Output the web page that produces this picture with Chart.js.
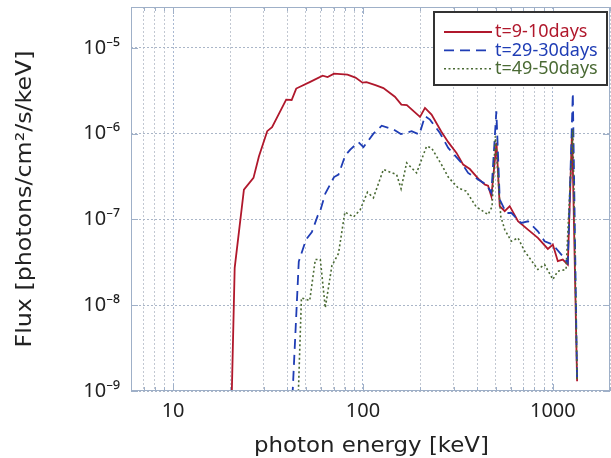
<!DOCTYPE html>
<html><head><meta charset="utf-8">
<script src="https://cdn.jsdelivr.net/npm/chart.js@4.4.1/dist/chart.umd.min.js"></script>
<style>html,body{margin:0;padding:0;background:#fff}#wrap{width:611px;height:458px;position:relative}</style>
</head><body><div id="wrap"><canvas id="c"></canvas></div>
<script>
const seriesLabels = ['t=9-10days', 't=29-30days', 't=49-50days'];
const xAxisTitle = 'photon energy [keV]';
const yAxisTitle = 'Flux [photons/cm\u00B2/s/keV]';

const redEnergy = [19.9, 21.1, 23.6, 26.5, 28.3, 31.3, 33.2, 39.4, 42.1, 44.5, 52.4, 61.3, 65.1, 70.4, 82.9, 91.3, 99.4, 104.3, 116.3, 128.1, 147.2, 159.3, 170.2, 199.7, 212.1, 229.7, 258.3, 281.2, 310.8, 337.0, 365.4, 408.8, 439.5, 455.8, 474.5, 505, 525.1, 557.9, 592.6, 655.2, 739.4, 834.2, 941.4, 1000, 1062, 1128, 1199, 1263, 1342];
const redFlux = [1e-10, 2.73e-8, 2.23e-7, 3.05e-7, 5.41e-7, 1.07e-6, 1.19e-6, 2.49e-6, 2.47e-6, 3.36e-6, 3.99e-6, 4.75e-6, 4.57e-6, 5.01e-6, 4.89e-6, 4.51e-6, 3.94e-6, 3.99e-6, 3.68e-6, 3.40e-6, 2.70e-6, 2.18e-6, 2.15e-6, 1.57e-6, 2.0e-6, 1.67e-6, 1.06e-6, 7.97e-7, 5.97e-7, 4.36e-7, 3.87e-7, 2.92e-7, 2.55e-7, 2.48e-7, 1.86e-7, 7.82e-7, 1.43e-7, 1.25e-7, 1.43e-7, 9.53e-8, 7.62e-8, 6.10e-8, 4.54e-8, 5.1e-8, 3.26e-8, 3.41e-8, 2.98e-8, 1.12e-6, 1.3e-9];

const blueEnergy = [40.6, 45.9, 50.1, 53.8, 57.7, 59.8, 63.3, 70.4, 74.3, 80.6, 85.7, 94.7, 100.6, 113.5, 125.5, 144.6, 158.3, 180.4, 198, 212.1, 225.3, 254.2, 281.2, 330, 357.9, 404, 446.6, 474.5, 504.1, 525.1, 568.9, 604.1, 681.6, 739.4, 834.2, 904.4, 1000, 1128, 1199, 1274, 1342];
const blueFlux = [1e-10, 3.23e-8, 5.83e-8, 7.13e-8, 1.10e-7, 1.30e-7, 2.0e-7, 3.12e-7, 3.34e-7, 5.55e-7, 6.53e-7, 7.97e-7, 6.98e-7, 1.0e-6, 1.24e-6, 1.12e-6, 9.9e-7, 1.07e-6, 9.77e-7, 1.60e-6, 1.46e-6, 1.02e-6, 6.82e-7, 4.57e-7, 3.49e-7, 2.92e-7, 2.55e-7, 2.04e-7, 1.82e-6, 1.71e-7, 1.19e-7, 1.19e-7, 9.12e-8, 9.53e-8, 7.28e-8, 5.57e-8, 5.1e-8, 3.72e-8, 3.12e-8, 2.99e-6, 1.3e-9];

const greenEnergy = [44.2, 47.4, 52.4, 56.1, 59.6, 63.3, 68.6, 74.3, 80.3, 89.2, 96.7, 105.6, 113.5, 128.1, 150.4, 158.7, 169.8, 191.6, 216.2, 229.7, 259.2, 281.2, 317.2, 349.4, 394.3, 455.8, 478.5, 497.9, 531.5, 557.9, 604.1, 655.2, 710.2, 834.2, 904.4, 1000, 1062, 1174, 1274, 1342];
const greenFlux = [1e-10, 1.22e-8, 1.13e-8, 3.41e-8, 3.41e-8, 9.33e-9, 2.9e-8, 4.01e-8, 1.22e-7, 1.07e-7, 1.30e-7, 2.08e-7, 1.79e-7, 3.82e-7, 3.34e-7, 2.28e-7, 4.57e-7, 3.49e-7, 7.13e-7, 6.82e-7, 4.36e-7, 3.12e-7, 2.33e-7, 2.14e-7, 1.41e-7, 1.14e-7, 1.41e-7, 9.33e-7, 1.09e-7, 7.62e-8, 5.57e-8, 6.1e-8, 4.26e-8, 2.61e-8, 2.98e-8, 2.0e-8, 2.49e-8, 2.61e-8, 1.12e-6, 1.3e-9];

const xTickValues = [6, 7, 8, 9, 10, 20, 30, 40, 50, 60, 70, 80, 90, 100, 200, 300, 400, 500, 600, 700, 800, 900, 1000, 2000];
const xTickLabels = {10: '10', 100: '100', 1000: '1000'};
const yTickValues = [1e-9, 1e-8, 1e-7, 1e-6, 1e-5];
const yTickLabels = ['10\u207B\u2079', '10\u207B\u2078', '10\u207B\u2077', '10\u207B\u2076', '10\u207B\u2075'];

const seriesColors = ['#b0182c', '#1f3db5', '#4a6a34'];
const seriesDash = [[], [10, 6], [2, 2.5]];
const seriesWidth = [1.8, 1.8, 1.6];

function pairs(xs, ys) { return xs.map((x, i) => ({x: x, y: ys[i]})); }
function isDecade(v) { const l = Math.log10(v); return Math.abs(l - Math.round(l)) < 1e-6; }
function zeroPad(s) { s.paddingTop = 0; s.paddingBottom = 0; s.paddingLeft = 0; s.paddingRight = 0; }

const FONT = "'Noto Sans', 'DejaVu Sans', sans-serif";
const TITLE_FONT = "'DejaVu Sans', 'Noto Sans', sans-serif";

const decor = {
  id: 'decor',
  afterDraw(chart) {
    const ctx = chart.ctx, a = chart.chartArea;
    const xs = chart.scales.x, ys = chart.scales.y;
    ctx.save();
    ctx.strokeStyle = '#9fb0c8';
    ctx.lineWidth = 1;
    ctx.setLineDash([]);
    ctx.strokeRect(a.left + 0.5, a.top + 0.5, a.right - a.left - 1, a.bottom - a.top - 1);
    ctx.beginPath();
    xTickValues.forEach(v => {
      const px = Math.round(xs.getPixelForValue(v)) + 0.5;
      const len = isDecade(v) ? 7 : 4;
      ctx.moveTo(px, a.bottom); ctx.lineTo(px, a.bottom - len);
      ctx.moveTo(px, a.top); ctx.lineTo(px, a.top + len);
    });
    yTickValues.forEach(v => {
      const py = Math.round(ys.getPixelForValue(v)) + 0.5;
      ctx.moveTo(a.left, py); ctx.lineTo(a.left + 7, py);
      ctx.moveTo(a.right, py); ctx.lineTo(a.right - 7, py);
    });
    ctx.stroke();

    // axis titles (slightly widened glyphs, like the original's wide face)
    ctx.fillStyle = '#222';
    ctx.textAlign = 'center';
    ctx.textBaseline = 'alphabetic';
    ctx.font = "21px " + TITLE_FONT;
    ctx.save();
    ctx.translate((a.left + a.right) / 2 + 1, 452);
    ctx.scale(1.09, 1);
    ctx.fillText(xAxisTitle, 0, 0);
    ctx.restore();
    ctx.save();
    ctx.translate(31, (a.top + a.bottom) / 2);
    ctx.rotate(-Math.PI / 2);
    ctx.scale(1.13, 1);
    ctx.fillText(yAxisTitle, 0, 0);
    ctx.restore();

    // legend box
    const bw = 173, bh = 73;
    const bx = a.right - bw - 3, by = a.top + 5;
    ctx.fillStyle = '#fff';
    ctx.fillRect(bx, by, bw, bh);
    ctx.strokeStyle = '#333';
    ctx.lineWidth = 2;
    ctx.strokeRect(bx, by, bw, bh);
    ctx.font = "18px " + FONT;
    ctx.textBaseline = 'middle';
    ctx.textAlign = 'left';
    chart.data.datasets.forEach((ds, i) => {
      const yy = by + 20 + i * 18.4;
      ctx.strokeStyle = ds.borderColor;
      ctx.lineWidth = ds.borderWidth;
      ctx.setLineDash(ds.borderDash || []);
      ctx.beginPath();
      ctx.moveTo(bx + 10, yy); ctx.lineTo(bx + 58, yy);
      ctx.stroke();
      ctx.setLineDash([]);
      ctx.fillStyle = ds.borderColor;
      ctx.fillText(ds.label, bx + 61, yy);
    });
    ctx.restore();
  }
};

new Chart(document.getElementById('c'), {
  type: 'line',
  data: {
    datasets: [
      {label: seriesLabels[0], data: pairs(redEnergy, redFlux), borderColor: seriesColors[0], borderWidth: seriesWidth[0], borderDash: seriesDash[0], order: 3},
      {label: seriesLabels[1], data: pairs(blueEnergy, blueFlux), borderColor: seriesColors[1], borderWidth: seriesWidth[1], borderDash: seriesDash[1], order: 2},
      {label: seriesLabels[2], data: pairs(greenEnergy, greenFlux), borderColor: seriesColors[2], borderWidth: seriesWidth[2], borderDash: seriesDash[2], order: 1}
    ]
  },
  options: {
    responsive: true,
    maintainAspectRatio: false,
    animation: false,
    devicePixelRatio: 1,
    layout: {padding: {top: 7, right: 1, left: 0, bottom: 0}},
    elements: {point: {radius: 0}, line: {tension: 0, fill: false}},
    plugins: {legend: {display: false}, tooltip: {enabled: false}},
    scales: {
      x: {
        type: 'logarithmic',
        min: 6, max: 2000,
        afterBuildTicks: s => { s.ticks = xTickValues.map(v => ({value: v})); },
        afterFit: s => { s.height = 67; zeroPad(s); },
        ticks: {
          autoSkip: false, maxRotation: 0, padding: 8,
          color: '#222', font: {family: FONT, size: 20},
          callback: v => xTickLabels[v] || ''
        },
        grid: {
          drawTicks: false,
          color: c => (c.tick && isDecade(c.tick.value)) ? '#a9b9d2' : '#c2c8d2',
          lineWidth: 1
        },
        border: {display: false, dash: [2, 2]},
        title: {display: false, text: xAxisTitle}
      },
      y: {
        type: 'logarithmic',
        min: 1e-9, max: 3e-5,
        afterBuildTicks: s => { s.ticks = yTickValues.map(v => ({value: v})); },
        afterFit: s => { s.width = 131; zeroPad(s); },
        ticks: {
          autoSkip: false, padding: 11,
          color: '#222', font: {family: FONT, size: 20},
          callback: (v, i) => yTickLabels[i]
        },
        grid: {drawTicks: false, color: '#aab6c8', lineWidth: 1},
        border: {display: false, dash: [2, 2]},
        title: {display: false, text: yAxisTitle}
      }
    }
  },
  plugins: [decor]
});
</script>
</body></html>
